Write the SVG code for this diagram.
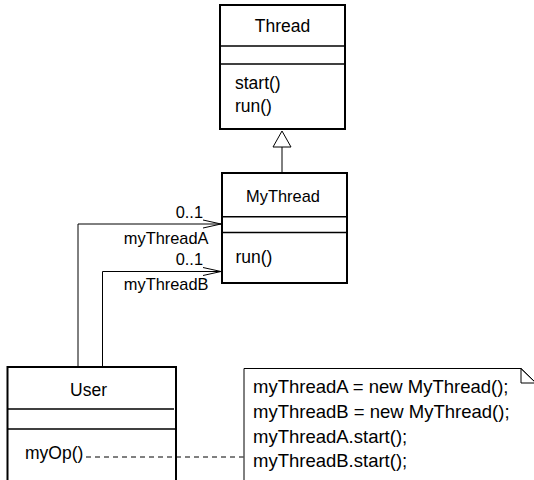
<svg xmlns="http://www.w3.org/2000/svg" width="534" height="480" viewBox="0 0 534 480">
<style>
.box{fill:#fff;stroke:#000;stroke-width:2}
.div{stroke:#000;stroke-width:1.5}
.t{font-family:"Liberation Sans",Arial,sans-serif;font-size:17.5px;fill:#000}
.s{font-family:"Liberation Sans",Arial,sans-serif;font-size:16.4px;fill:#000}
.n{font-family:"Liberation Sans",Arial,sans-serif;font-size:18.5px;fill:#000}
.ln{fill:none;stroke:#000;stroke-width:1}
</style>
<rect width="534" height="480" fill="#fff"/>
<g id="Thread">
<rect class="box" x="220" y="5" width="125" height="124"/>
<line class="div" x1="220" y1="46" x2="345" y2="46"/>
<line class="div" x1="220" y1="64" x2="345" y2="64"/>
<text class="t" x="282.5" y="31.5" text-anchor="middle">Thread</text>
<text class="t" x="235" y="89">start()</text>
<text class="t" x="235" y="112">run()</text>
</g>
<g id="MyThread">
<rect class="box" x="222" y="173" width="125" height="110"/>
<line class="div" x1="222" y1="216.7" x2="348" y2="216.7"/>
<line class="div" x1="222" y1="232.5" x2="347" y2="232.5"/>
<text class="s" x="283" y="201.5" text-anchor="middle">MyThread</text>
<text class="t" x="235.5" y="263">run()</text>
</g>
<g id="User">
<rect class="box" x="7.5" y="367" width="168.5" height="120"/>
<line class="div" x1="7.5" y1="409" x2="174" y2="409"/>
<line class="div" x1="7.5" y1="429" x2="176" y2="429"/>
<text class="t" x="88.5" y="395.5" text-anchor="middle">User</text>
<text class="t" x="25" y="459">myOp()</text>
</g>
<g id="Note">
<path d="M244,490 L244,368.5 L521,368.5 L538,385 L538,490" fill="#fff" stroke="#000" stroke-width="1"/>
<polyline class="ln" points="521,368.5 521,383 536,383"/>
<line class="ln" x1="521" y1="368.5" x2="536" y2="383"/>
<text class="n" x="253" y="393">myThreadA = new MyThread();</text>
<text class="n" x="253" y="418">myThreadB = new MyThread();</text>
<text class="n" x="253" y="443">myThreadA.start();</text>
<text class="n" x="253" y="467">myThreadB.start();</text>
</g>
<g id="connectors">
<polyline class="ln" points="282,173 282,147"/>
<polygon points="282,131 273,147 291,147" fill="#fff" stroke="#000" stroke-width="1"/>
<polyline class="ln" points="78,366 78,224 221,224"/>
<polyline class="ln" points="203,220 221,224 203,228"/>
<polyline class="ln" points="102.5,366 102.5,271.5 221,271.5" stroke="#555"/>
<polyline class="ln" points="203,267.5 221,271.5 203,275.5" stroke="#555"/>
<line class="ln" x1="86" y1="457" x2="243.5" y2="457" stroke-dasharray="5,4"/>
<text class="s" x="203" y="218" text-anchor="end">0..1</text>
<text class="s" x="208.5" y="243.5" text-anchor="end">myThreadA</text>
<text class="s" x="203" y="265" text-anchor="end">0..1</text>
<text class="s" x="208.5" y="290" text-anchor="end">myThreadB</text>
</g>
</svg>
